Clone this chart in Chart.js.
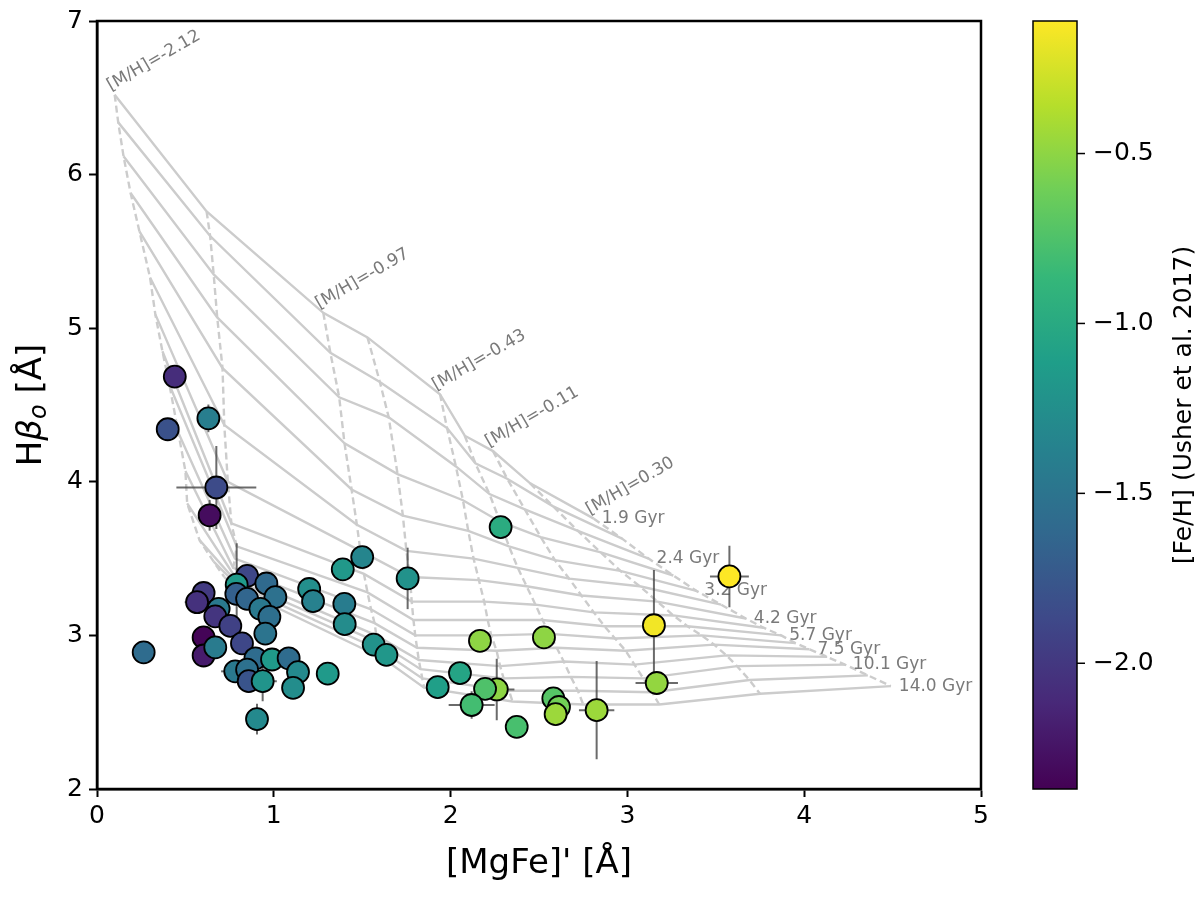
<!DOCTYPE html>
<html>
<head>
<meta charset="utf-8">
<script src="https://cdn.jsdelivr.net/npm/chart.js@4.4.0/dist/chart.umd.min.js"></script>
<style>
  html, body { margin: 0; padding: 0; background: #fff; }
</style>
</head>
<body>
<canvas id="chart" width="1200" height="897"></canvas>
<script>
// model grid: one row per [M/H], one column per age
var metalLabels = ['-2.12', '-1.55', '-0.97', '-0.70', '-0.43', '-0.25', '-0.11', '0.06', '0.30'];
var ageLabels = ['1.9', '2.1', '2.4', '2.8', '3.2', '3.7', '4.2', '5.0', '5.7', '6.5', '7.5', '8.9', '10.1', '12.0', '14.0'];

var gridX = [
  [0.10, 0.12, 0.15, 0.19, 0.24, 0.30, 0.33, 0.37, 0.41, 0.46, 0.50, 0.51, 0.58, 0.66, 0.72],
  [0.62, 0.64, 0.66, 0.68, 0.71, 0.72, 0.74, 0.76, 0.79, 0.78, 0.77, 0.77, 0.78, 0.79, 0.80],
  [1.28, 1.32, 1.37, 1.40, 1.44, 1.47, 1.49, 1.51, 1.53, 1.55, 1.57, 1.58, 1.60, 1.61, 1.62],
  [1.53, 1.60, 1.65, 1.70, 1.73, 1.75, 1.77, 1.78, 1.79, 1.80, 1.81, 1.82, 1.83, 1.84, 1.85],
  [1.94, 1.98, 2.03, 2.07, 2.10, 2.13, 2.16, 2.19, 2.21, 2.23, 2.26, 2.28, 2.30, 2.33, 2.35],
  [2.08, 2.14, 2.22, 2.28, 2.33, 2.38, 2.43, 2.48, 2.52, 2.56, 2.60, 2.64, 2.68, 2.72, 2.75],
  [2.24, 2.32, 2.42, 2.51, 2.59, 2.67, 2.74, 2.81, 2.87, 2.93, 2.99, 3.04, 3.09, 3.14, 3.18],
  [2.45, 2.58, 2.72, 2.85, 2.96, 3.07, 3.17, 3.26, 3.34, 3.42, 3.49, 3.56, 3.62, 3.69, 3.75],
  [2.81, 2.97, 3.12, 3.26, 3.39, 3.53, 3.67, 3.77, 3.87, 3.95, 4.03, 4.13, 4.23, 4.36, 4.49]
];
var gridY = [
  [6.52, 6.34, 6.12, 5.88, 5.63, 5.33, 5.09, 4.85, 4.63, 4.32, 4.07, 3.86, 3.62, 3.48, 3.38],
  [5.76, 5.60, 5.35, 5.07, 4.74, 4.37, 4.00, 3.73, 3.58, 3.50, 3.44, 3.40, 3.36, 3.33, 3.30],
  [5.10, 4.84, 4.55, 4.25, 3.95, 3.72, 3.55, 3.40, 3.28, 3.17, 3.08, 3.00, 2.95, 2.90, 2.85],
  [4.94, 4.65, 4.42, 4.05, 3.78, 3.55, 3.38, 3.22, 3.10, 3.00, 2.92, 2.84, 2.78, 2.72, 2.66],
  [4.57, 4.35, 4.10, 3.88, 3.68, 3.50, 3.36, 3.22, 3.10, 3.00, 2.90, 2.80, 2.72, 2.64, 2.57],
  [4.30, 4.12, 3.92, 3.74, 3.58, 3.44, 3.32, 3.20, 3.10, 3.01, 2.92, 2.83, 2.73, 2.64, 2.55],
  [4.20, 4.02, 3.82, 3.64, 3.49, 3.37, 3.26, 3.15, 3.06, 2.98, 2.90, 2.81, 2.72, 2.63, 2.55],
  [3.99, 3.84, 3.68, 3.54, 3.42, 3.32, 3.22, 3.13, 3.06, 3.00, 2.94, 2.87, 2.80, 2.71, 2.62],
  [3.76, 3.63, 3.50, 3.39, 3.29, 3.20, 3.11, 3.05, 3.00, 2.95, 2.91, 2.86, 2.81, 2.74, 2.67]
];

// clusters
var mgfe = [0.44, 0.63, 0.40, 0.675, 0.637, 0.264, 0.603, 0.566, 0.688, 0.669,
            0.754, 0.603, 0.603, 0.669, 0.82, 0.849, 0.79, 0.788, 0.958, 0.849,
            1.009, 0.924, 0.975, 0.952, 0.896, 0.99, 1.084, 1.137, 1.109, 0.782,
            0.849, 0.858, 0.937, 0.905, 1.20, 1.222, 1.39, 1.50, 1.399, 1.401,
            1.565, 1.637, 1.305, 2.283, 1.757, 2.166, 2.528, 3.15, 3.166, 2.053,
            1.927, 2.261, 2.195, 2.119, 2.374, 2.581, 2.613, 2.594, 2.826, 3.577];
var hbeta = [4.685, 4.413, 4.342, 3.963, 3.782, 2.89, 3.276, 3.216, 3.173, 3.124,
             3.062, 2.987, 2.869, 2.922, 2.948, 3.388, 3.33, 3.27, 3.338, 3.238,
             3.249, 3.173, 3.12, 3.012, 2.851, 2.843, 2.851, 2.761, 2.659, 2.766,
             2.777, 2.702, 2.702, 2.455, 3.302, 3.223, 3.43, 3.51, 3.205, 3.073,
             2.94, 2.873, 2.751, 3.705, 3.371, 2.965, 2.987, 3.066, 2.69, 2.755,
             2.663, 2.648, 2.652, 2.547, 2.405, 2.59, 2.534, 2.487, 2.513, 3.384];
var feh = [-2.08, -1.40, -1.80, -1.85, -2.30, -1.58, -1.98, -2.05, -1.45, -2.02,
           -1.93, -2.35, -2.20, -1.43, -1.88, -1.88, -1.15, -1.68, -1.60, -1.63,
           -1.53, -1.45, -1.55, -1.50, -1.58, -1.15, -1.58, -1.30, -1.27, -1.45,
           -1.53, -1.78, -1.20, -1.30, -1.25, -1.38, -1.17, -1.34, -1.42, -1.28,
           -1.22, -1.18, -1.15, -0.98, -1.22, -0.50, -0.50, -0.15, -0.48, -1.05,
           -1.10, -0.50, -0.75, -0.80, -0.78, -0.72, -0.60, -0.45, -0.45, -0.11];
var mgfeErr = [0, 0, 0, 0.226, 0, 0, 0, 0.07, 0, 0,
               0, 0, 0, 0, 0, 0, 0, 0, 0, 0,
               0, 0, 0, 0, 0, 0, 0, 0, 0, 0.08,
               0, 0, 0.08, 0, 0, 0, 0, 0, 0, 0,
               0, 0, 0, 0, 0, 0, 0, 0, 0.12, 0,
               0, 0.10, 0, 0.13, 0, 0, 0, 0, 0.10, 0.11];
var hbetaErr = [0, 0.09, 0, 0.27, 0.10, 0, 0, 0, 0, 0,
                0, 0, 0, 0, 0, 0, 0.27, 0, 0, 0,
                0, 0, 0, 0, 0, 0, 0, 0, 0, 0,
                0, 0, 0.13, 0.10, 0, 0, 0, 0, 0, 0,
                0, 0, 0, 0, 0.20, 0, 0, 0.36, 0, 0,
                0, 0.20, 0, 0.09, 0, 0, 0, 0, 0.32, 0.20];

var fehMin = -2.37, fehMax = -0.11;
var cbarTicks = [-2.0, -1.5, -1.0, -0.5];

var viridisStops = ['#440154', '#482878', '#3e4989', '#31688e', '#26828e',
                    '#1f9e89', '#35b779', '#6ece58', '#b5de2b', '#fde725'];

function hexRgb(h) {
  return [parseInt(h.substr(1, 2), 16), parseInt(h.substr(3, 2), 16), parseInt(h.substr(5, 2), 16)];
}
function viridis(v) {
  var t = (v - fehMin) / (fehMax - fehMin);
  t = Math.max(0, Math.min(1, t));
  var s = t * 9, i = Math.min(8, Math.floor(s)), f = s - i;
  var a = hexRgb(viridisStops[i]), b = hexRgb(viridisStops[i + 1]);
  var c = a.map(function (ai, k) { return Math.round(ai + (b[k] - ai) * f); });
  return 'rgb(' + c.join(',') + ')';
}

var gridColor = '#cccccc';
var labelColor = '#7a7a7a';

var datasets = [];
datasets.push({
  label: 'clusters',
  data: mgfe.map(function (x, i) { return { x: x, y: hbeta[i] }; }),
  pointRadius: 11,
  pointBackgroundColor: feh.map(viridis),
  pointBorderColor: '#000',
  pointBorderWidth: 1.8,
  showLine: false
});
// constant-age lines (solid)
ageLabels.forEach(function (age, a) {
  datasets.push({
    label: age + ' Gyr',
    data: gridX.map(function (row, m) { return { x: row[a], y: gridY[m][a] }; }),
    showLine: true,
    borderColor: gridColor,
    borderWidth: 2.4,
    pointRadius: 0,
    fill: false
  });
});
// constant-metallicity lines (dashed)
metalLabels.forEach(function (mh, m) {
  datasets.push({
    label: '[M/H]=' + mh,
    data: gridX[m].map(function (x, a) { return { x: x, y: gridY[m][a] }; }),
    showLine: true,
    borderColor: gridColor,
    borderWidth: 2.4,
    borderDash: [7, 4],
    pointRadius: 0,
    fill: false
  });
});

var extras = {
  id: 'extras',
  beforeDatasetDraw: function (chart, args) {
    if (args.index !== 0) return;
    var ctx = chart.ctx, xs = chart.scales.x, ys = chart.scales.y;
    ctx.save();
    // grid annotations
    ctx.fillStyle = labelColor;
    ctx.font = '17px "DejaVu Sans"';
    ctx.textAlign = 'left';
    for (var m = 0; m < metalLabels.length; m += 2) {
      var px = xs.getPixelForValue(gridX[m][0]), py = ys.getPixelForValue(gridY[m][0]);
      ctx.save();
      ctx.translate(px - 4, py - 4);
      ctx.rotate(-30 * Math.PI / 180);
      ctx.textBaseline = 'alphabetic';
      ctx.fillText('[M/H]=' + metalLabels[m], 0, 0);
      ctx.restore();
    }
    var last = gridX.length - 1;
    ctx.textBaseline = 'middle';
    for (var a = 0; a < ageLabels.length; a += 2) {
      ctx.fillText(ageLabels[a] + ' Gyr', xs.getPixelForValue(gridX[last][a]) + 8, ys.getPixelForValue(gridY[last][a]));
    }
    // error bars
    ctx.strokeStyle = 'rgba(70,70,70,0.8)';
    ctx.lineWidth = 2;
    mgfe.forEach(function (x, i) {
      var y = hbeta[i];
      ctx.beginPath();
      if (mgfeErr[i] > 0) {
        ctx.moveTo(xs.getPixelForValue(x - mgfeErr[i]), ys.getPixelForValue(y));
        ctx.lineTo(xs.getPixelForValue(x + mgfeErr[i]), ys.getPixelForValue(y));
      }
      if (hbetaErr[i] > 0) {
        ctx.moveTo(xs.getPixelForValue(x), ys.getPixelForValue(y - hbetaErr[i]));
        ctx.lineTo(xs.getPixelForValue(x), ys.getPixelForValue(y + hbetaErr[i]));
      }
      ctx.stroke();
    });
    ctx.restore();
  },
  afterDraw: function (chart) {
    var ctx = chart.ctx, area = chart.chartArea, cs = chart.scales.c;
    ctx.save();
    // frame
    ctx.strokeStyle = '#000';
    ctx.lineWidth = 2.5;
    ctx.strokeRect(area.left, area.top, area.right - area.left, area.bottom - area.top);

    // axis titles
    ctx.fillStyle = '#000';
    ctx.font = '34px "DejaVu Sans"';
    ctx.textAlign = 'center';
    ctx.textBaseline = 'middle';
    ctx.fillText("[MgFe]' [\u00c5]", (area.left + area.right) / 2, 864);

    ctx.save();
    ctx.translate(32, (area.top + area.bottom) / 2);
    ctx.rotate(-Math.PI / 2);
    var parts = [
      { t: 'H', f: '34px "DejaVu Sans"', dy: 0 },
      { t: '\u03b2', f: 'italic 34px "DejaVu Sans"', dy: 0 },
      { t: 'o', f: 'italic 24px "DejaVu Sans"', dy: 8 },
      { t: ' [\u00c5]', f: '34px "DejaVu Sans"', dy: 0 }
    ];
    var total = 0;
    parts.forEach(function (p) { ctx.font = p.f; p.w = ctx.measureText(p.t).width; total += p.w; });
    var cx = -total / 2;
    ctx.textAlign = 'left';
    ctx.textBaseline = 'middle';
    parts.forEach(function (p) { ctx.font = p.f; ctx.fillText(p.t, cx, p.dy); cx += p.w; });
    ctx.restore();

    // colorbar
    var bx0 = 1033, bx1 = 1077;
    var top = cs.getPixelForValue(fehMax), bot = cs.getPixelForValue(fehMin);
    var g = ctx.createLinearGradient(0, bot, 0, top);
    viridisStops.forEach(function (c, i) { g.addColorStop(i / 9, c); });
    ctx.fillStyle = g;
    ctx.fillRect(bx0, top, bx1 - bx0, bot - top);
    ctx.strokeStyle = '#000';
    ctx.lineWidth = 1.5;
    ctx.strokeRect(bx0, top, bx1 - bx0, bot - top);
    ctx.font = '25px "DejaVu Sans"';
    ctx.fillStyle = '#000';
    ctx.textAlign = 'left';
    ctx.textBaseline = 'middle';
    cbarTicks.forEach(function (v) {
      var py = cs.getPixelForValue(v);
      ctx.beginPath();
      ctx.moveTo(bx1, py);
      ctx.lineTo(bx1 + 8, py);
      ctx.stroke();
      ctx.fillText('\u2212' + Math.abs(v).toFixed(1), bx1 + 16, py);
    });
    ctx.save();
    ctx.translate(1184, (top + bot) / 2);
    ctx.rotate(-Math.PI / 2);
    ctx.textAlign = 'center';
    ctx.fillText('[Fe/H] (Usher et al. 2017)', 0, 0);
    ctx.restore();
    ctx.restore();
  }
};

new Chart(document.getElementById('chart').getContext('2d'), {
  type: 'scatter',
  data: { datasets: datasets },
  options: {
    responsive: false,
    animation: false,
    events: [],
    layout: { padding: { left: 0, right: 219, top: 12, bottom: 0 } },
    plugins: { legend: { display: false }, tooltip: { enabled: false } },
    scales: {
      x: {
        type: 'linear', min: 0, max: 5,
        afterFit: function (s) { s.height = 108; },
        ticks: { stepSize: 1, color: '#000', font: { family: 'DejaVu Sans', size: 25 }, padding: 4 },
        grid: { drawOnChartArea: false, tickLength: 8, tickWidth: 2, tickColor: '#000' },
        border: { display: true, color: '#000', width: 2.5 }
      },
      y: {
        type: 'linear', min: 2, max: 7,
        afterFit: function (s) { s.width = 97; },
        ticks: { stepSize: 1, color: '#000', font: { family: 'DejaVu Sans', size: 25 }, padding: 6 },
        grid: { drawOnChartArea: false, tickLength: 8, tickWidth: 2, tickColor: '#000' },
        border: { display: true, color: '#000', width: 2.5 }
      },
      c: { type: 'linear', axis: 'y', position: 'right', display: false, min: fehMin, max: fehMax }
    }
  },
  plugins: [extras]
});
</script>
</body>
</html>
